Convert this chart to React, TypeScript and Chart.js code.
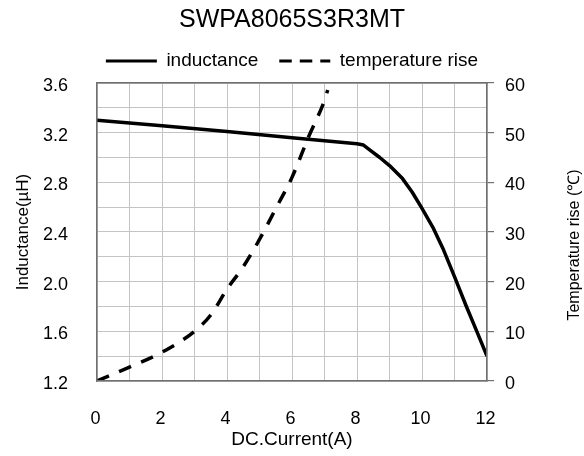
import React, { useEffect, useRef } from "react";
import { Chart, registerables } from "chart.js";

Chart.register(...registerables);

const chartTitle = "SWPA8065S3R3MT";
const inductanceLabel = "inductance";
const temperatureLabel = "temperature rise";
const xAxisTitle = "DC.Current(A)";
const leftAxisTitle = "Inductance(µH)";
const rightAxisTitle = "Temperature rise (℃)";

const inductanceCurrent = [0, 2, 4, 6, 8, 8.2, 8.4, 8.7, 9, 9.4, 9.7, 10, 10.33, 10.64, 11, 11.35, 11.67, 12];
const inductanceValues = [3.3, 3.255, 3.21, 3.16, 3.11, 3.1, 3.06, 3.0, 2.935, 2.83, 2.72, 2.59, 2.44, 2.27, 2.04, 1.81, 1.61, 1.4];

const temperatureCurrent = [0, 1, 2, 3, 3.5, 4, 4.5, 5, 5.5, 6, 6.5, 7, 7.1];
const temperatureValues = [0, 2.8, 5.8, 10, 13.3, 18.5, 23, 28.5, 34.7, 41, 49, 56.5, 58.6];

const FONT = '"Liberation Sans", Arial, sans-serif';
const GRID = "#c4c4c4";
const AXIS = "#707070";

const rightTitlePlugin = {
  id: "rightTitle",
  afterDraw(chart: any) {
    const { ctx, chartArea } = chart;
    ctx.save();
    ctx.translate(chartArea.right + 88, (chartArea.top + chartArea.bottom) / 2 + 13);
    ctx.rotate(-Math.PI / 2);
    ctx.font = `16px ${FONT}`;
    ctx.fillStyle = "#000";
    ctx.textAlign = "center";
    ctx.textBaseline = "middle";
    ctx.fillText(rightAxisTitle, 0, 0);
    ctx.restore();
  },
};

export default function App() {
  const ref = useRef<HTMLCanvasElement | null>(null);

  useEffect(() => {
    document.body.style.margin = "0";
    const canvas = ref.current;
    if (!canvas) return;
    const chart = new Chart(canvas, {
      type: "line",
      data: {
        datasets: [
          {
            label: inductanceLabel,
            data: inductanceCurrent.map((x, i) => ({ x, y: inductanceValues[i] })),
            borderColor: "#000",
            backgroundColor: "#000",
            borderWidth: 3.5,
            pointRadius: 0,
            tension: 0,
            borderJoinStyle: "round",
            yAxisID: "y",
            xAxisID: "x",
          },
          {
            label: temperatureLabel,
            data: temperatureCurrent.map((x, i) => ({ x, y: temperatureValues[i] })),
            borderColor: "#000",
            backgroundColor: "#000",
            borderWidth: 3.5,
            borderDash: [13, 11],
            pointRadius: 0,
            cubicInterpolationMode: "monotone",
            yAxisID: "y1",
            xAxisID: "x",
          },
        ],
      },
      options: {
        responsive: false,
        animation: false,
        events: [],
        layout: { padding: 0 },
        plugins: {
          title: {
            display: true,
            text: chartTitle,
            color: "#000",
            font: { family: FONT, size: 25, weight: "normal", lineHeight: 1 },
            padding: { top: 8, bottom: -2.5 },
          },
          legend: {
            display: true,
            position: "top",
            labels: {
              color: "#000",
              font: { family: FONT, size: 19 },
              usePointStyle: true,
              pointStyle: "line",
              pointStyleWidth: 51,
              boxHeight: 19,
              padding: 21,
              generateLabels: (c: any) => {
                const items = (Chart.defaults as any).plugins.legend.labels.generateLabels(c);
                items.forEach((it: any) => {
                  const ds = c.data.datasets[it.datasetIndex];
                  it.lineDash = ds.borderDash ? [12.5, 8] : [];
                  it.lineWidth = 3;
                  it.strokeStyle = "#000";
                  it.fillStyle = "#000";
                  it.pointStyle = "line";
                });
                return items;
              },
            },
          },
          tooltip: { enabled: false },
        },
        scales: {
          x: {
            type: "linear",
            position: "bottom",
            min: 0,
            max: 12,
            afterFit: (s: any) => {
              s.height = 75;
            },
            ticks: {
              stepSize: 1,
              autoSkip: false,
              maxRotation: 0,
              padding: 27,
              labelOffset: -1.5,
              color: "#000",
              font: { family: FONT, size: 18 },
              callback: (v: any) => (Number(v) % 2 === 0 ? String(v) : ""),
            },
            grid: { color: GRID, lineWidth: 1, drawTicks: false },
            border: { color: AXIS, width: 1.5, z: 1 },
            title: {
              display: true,
              text: xAxisTitle,
              color: "#000",
              font: { family: FONT, size: 19 },
              padding: { top: 0, bottom: 4.5 },
            },
          },
          x2: {
            type: "linear",
            position: "top",
            min: 0,
            max: 12,
            afterFit: (s: any) => {
              s.height = 2.5;
            },
            ticks: { display: false },
            grid: { display: true, drawOnChartArea: false, drawTicks: false },
            border: { color: AXIS, width: 1.5, z: 1 },
          },
          y: {
            type: "linear",
            position: "left",
            min: 1.2,
            max: 3.6,
            afterFit: (s: any) => {
              s.width = 97;
            },
            ticks: {
              stepSize: 0.2,
              autoSkip: false,
              padding: 29,
              labelOffset: 3,
              color: "#000",
              font: { family: FONT, size: 18 },
              callback: (v: any, i: number) => (i % 2 === 0 ? Number(v).toFixed(1) : ""),
            },
            grid: { color: GRID, lineWidth: 1, drawTicks: false },
            border: { color: AXIS, width: 1.5, z: 1 },
            title: {
              display: true,
              text: leftAxisTitle,
              color: "#000",
              font: { family: FONT, size: 17 },
              padding: { top: 12.8, bottom: 0 },
            },
          },
          y1: {
            type: "linear",
            position: "right",
            min: 0,
            max: 60,
            afterFit: (s: any) => {
              s.width = 97;
            },
            ticks: {
              stepSize: 10,
              autoSkip: false,
              padding: 11,
              labelOffset: 3,
              color: "#000",
              font: { family: FONT, size: 18 },
            },
            grid: {
              drawOnChartArea: false,
              drawTicks: true,
              tickLength: 7,
              color: AXIS,
              lineWidth: 1.2,
            },
            border: { color: AXIS, width: 1.5, z: 1 },
          },
        },
      },
      plugins: [rightTitlePlugin],
    } as any);
    return () => chart.destroy();
  }, []);

  return (
    <div style={{ position: "fixed", left: 0, top: 0, width: 584, height: 456, background: "#fff" }}>
      <canvas ref={ref} width={584} height={456} />
    </div>
  );
}
